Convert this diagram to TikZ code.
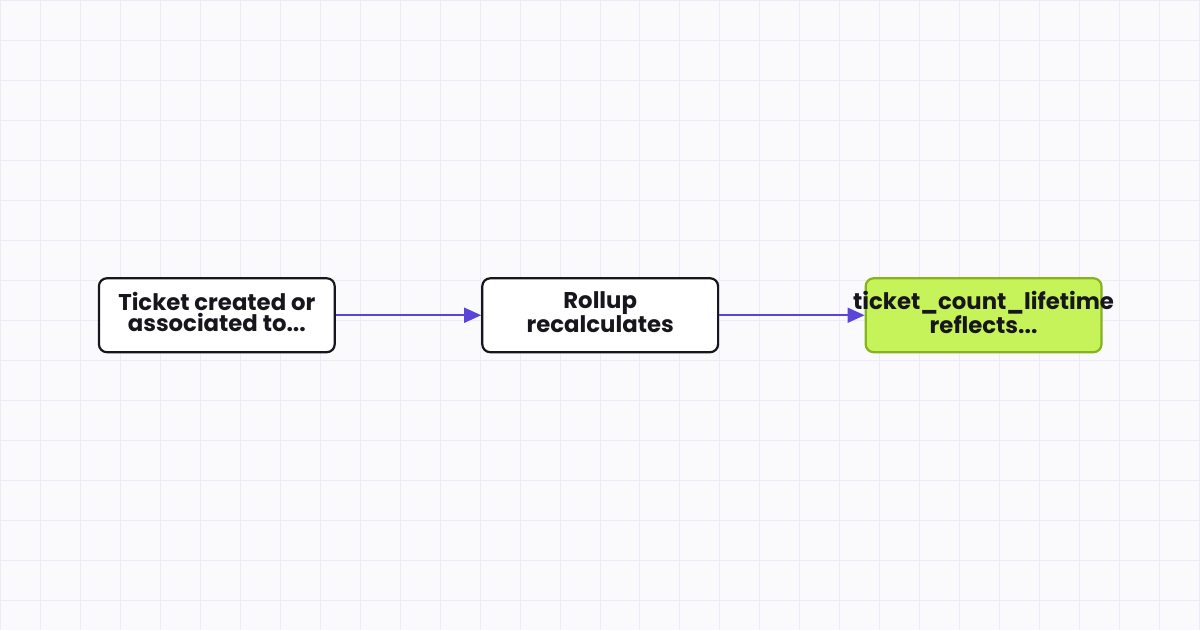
\documentclass[tikz,border=0pt]{standalone}
\usepackage{fontspec}
\setmainfont{Poppins}
\usetikzlibrary{positioning,arrows.meta}
\definecolor{canvas}{HTML}{FAFAFD}
\definecolor{gridline}{HTML}{EDEBF7}
\definecolor{flowarrow}{HTML}{5B45D9}
\definecolor{resultfill}{HTML}{C6F25A}
\definecolor{resultdraw}{HTML}{86B41C}
\definecolor{textdark}{HTML}{16161C}

\begin{document}
\begin{tikzpicture}[x=1pt, y=-1pt,
	every node/.style={font=\bfseries\fontsize{22.8}{21}\selectfont, text=textdark, align=center},
	flowbox/.style={draw=textdark, fill=white, line width=2.2pt, rounded corners=8pt, minimum width=236pt, minimum height=74pt, inner sep=0pt},
	resultbox/.style={flowbox, draw=resultdraw, fill=resultfill},
	flowline/.style={draw=flowarrow, line width=1.8pt, -{Triangle[length=17pt, width=15pt]}},
	node distance=145.5pt]
		\fill[canvas] (0,0) rectangle (1200,630);
		\foreach \gx in {0,40,...,1200} \draw[gridline, line width=1pt] (\gx,0) -- (\gx,630);
		\foreach \gy in {0,40,...,600} \draw[gridline, line width=1pt] (0,\gy) -- (1200,\gy);
		\useasboundingbox (0,0) rectangle (1200,630);
		\node (created) [flowbox] at (216.5,315) {Ticket created or\\associated to...\vphantom{p}};
		\node (rollup) [flowbox, right=of created] {Rollup\\recalculates\vphantom{p}};
		% long label runs past the box edges
		\node (lifetime) [resultbox, right=of rollup] {\makebox[0pt]{ticket\_count\_lifetime}\\reflects...\vphantom{p}};
		\draw[flowline] (created) -- (rollup);
		\draw[flowline] (rollup) -- (lifetime);
	\end{tikzpicture}
\end{document}
